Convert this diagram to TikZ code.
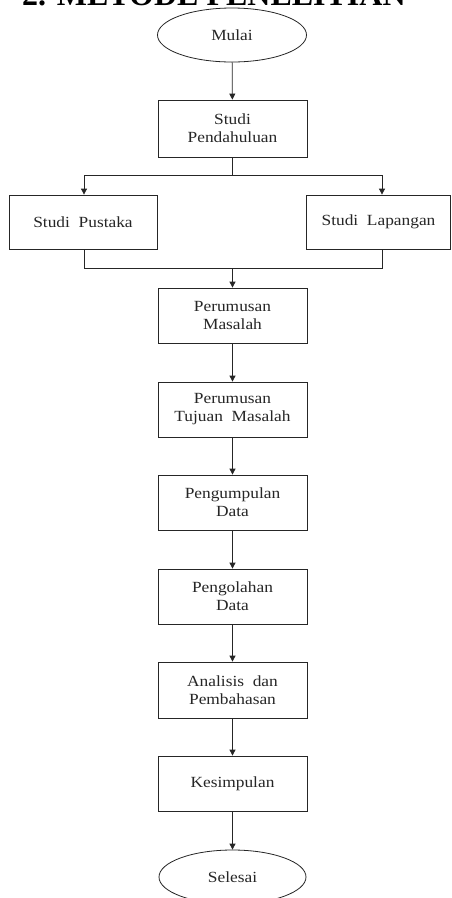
\documentclass[tikz,border=0pt]{standalone}
\usepackage{fontspec}
\setmainfont{Liberation Serif}
\newfontfamily\bodyfont{Liberation Serif}[FakeStretch=1.12]
\usetikzlibrary{arrows.meta,shapes.geometric}
\definecolor{ink}{HTML}{262626}
\begin{document}
\begin{tikzpicture}[x=1pt,y=-1pt,
  txt/.style={font=\bodyfont\fontsize{15.5}{18}\selectfont, text=ink, align=center},
  box/.style={txt, draw=ink, line width=0.8pt, minimum width=149pt, minimum height=55pt, inner sep=0pt},
  term/.style={txt, draw=ink, ellipse, line width=0.8pt, minimum width=149pt, minimum height=54pt, inner sep=0pt},
  arr/.style={draw=ink, line width=0.8pt, -{Triangle[width=6pt,length=6pt]}},
  ln/.style={draw=ink, line width=0.8pt}]
\useasboundingbox (0,0) rectangle (451,898);
\clip (0,0) rectangle (451,898);
\fill[white] (0,0) rectangle (451,898);

\node[anchor=base west, inner sep=0pt, font=\bfseries\fontsize{32}{32}\selectfont] (title) at (22,5) {2. METODE PENELITIAN};

\node[term] (mulai) at (232,35) {Mulai};
\node[box, minimum height=57pt] (pend) at (232.5,128.5) {Studi\\Pendahuluan};
\node[box, minimum width=148pt, minimum height=54pt] (pustaka) at (83,222) {Studi\ \ Pustaka};
\node[box, minimum width=144pt, minimum height=54pt] (lapangan) at (378.5,222) {Studi\ \ Lapangan};
\node[box] (rumus) at (232.5,315.5) {Perumusan\\Masalah};
\node[box] (tujuan) at (232.5,409.5) {Perumusan\\Tujuan\ \ Masalah};
\node[box] (kumpul) at (232.5,502.5) {Pengumpulan\\Data};
\node[box] (olah) at (232.5,596.5) {Pengolahan\\Data};
\node[box, minimum height=56pt] (analisis) at (232.5,690) {Analisis\ \ dan\\Pembahasan};
\node[box] (simpul) at (232.5,783.5) {Kesimpulan};
\node[term, minimum width=147pt] (selesai) at (232.5,877) {Selesai};

\coordinate (sc) at (232.5,175);
\coordinate (sl) at (84,175);
\coordinate (sr) at (382,175);
\coordinate (mc) at (232.5,268);
\coordinate (ml) at (84,268);
\coordinate (mr) at (382,268);

\draw[arr] (mulai) -- (pend);
\draw[ln] (pend) -- (sc);
\draw[ln] (sl) -- (sr);
\draw[arr] (sl) -- (sl |- pustaka.north);
\draw[arr] (sr) -- (sr |- lapangan.north);
\draw[ln] (sl |- pustaka.south) -- (ml) -- (mr) -- (sr |- lapangan.south);
\draw[arr] (mc) -- (rumus);
\draw[arr] (rumus) -- (tujuan);
\draw[arr] (tujuan) -- (kumpul);
\draw[arr] (kumpul) -- (olah);
\draw[arr] (olah) -- (analisis);
\draw[arr] (analisis) -- (simpul);
\draw[arr] (simpul) -- (selesai);
\end{tikzpicture}
\end{document}
